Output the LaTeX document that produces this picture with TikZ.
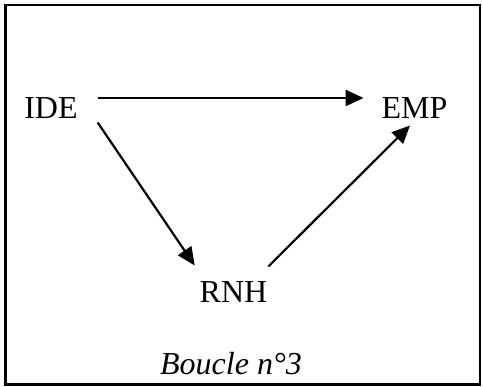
\documentclass[tikz,border=0pt]{standalone}
\usepackage{fontspec}
\setmainfont{Liberation Serif}
\usetikzlibrary{arrows.meta}
\begin{document}
\begin{tikzpicture}[x=1pt,y=-1pt,
  lbl/.style={inner sep=0pt,outer sep=0pt,font=\fontsize{32}{38}\selectfont},
  conn/.style={line width=2.2pt,-{Triangle[length=18pt,width=16pt]}}]
\useasboundingbox (0,0) rectangle (483,387);
\draw[line width=2.6pt] (5.5,5) rectangle (480,384.5);
\node[lbl] (IDE) at (51,108) {IDE};
\node[lbl] (EMP) at (414.5,108) {EMP};
\node[lbl] (RNH) at (233.5,292) {RNH};
\node[lbl,anchor=base] (cap) at (231,375) {\itshape Boucle n°3};
\draw[conn] ([shift={(20,-10)}]IDE.east) -- ([shift={(-18,-10)}]EMP.west);
\draw[conn] ([shift={(20,4)}]IDE.south east) -- ([shift={(-5,-16)}]RNH.north west);
\draw[conn] ([shift={(1,-15)}]RNH.north east) -- ([shift={(-4.5,7)}]EMP.south);
\end{tikzpicture}
\end{document}
